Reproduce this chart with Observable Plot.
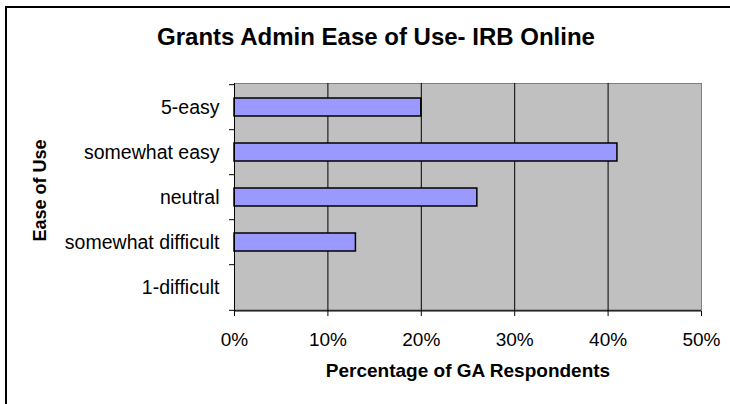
<!DOCTYPE html>
<html><head><meta charset="utf-8">
<script src="https://cdn.jsdelivr.net/npm/d3@7"></script>
<script src="https://cdn.jsdelivr.net/npm/@observablehq/plot@0.6"></script>
<style>
body{margin:0;background:#fff;}
#chart{position:relative;width:730px;height:404px;overflow:hidden;background:#fff;font-family:"Liberation Sans",Arial,sans-serif;}
#border{position:absolute;left:5px;top:6px;width:900px;height:600px;border-left:2px solid #000;border-top:2px solid #000;}
#title{position:absolute;left:0;width:752px;top:25px;text-align:center;font-weight:bold;font-size:24px;line-height:23px;color:#000;white-space:nowrap;}
#chart svg{position:absolute;left:0;top:0;}
</style></head><body>
<div id="chart"><div id="border"></div><div id="title"></div></div>
<script>
const title = "Grants Admin Ease of Use- IRB Online";
const categories = ["5-easy", "somewhat easy", "neutral", "somewhat difficult", "1-difficult"];
const values = [20, 41, 26, 13, 0];
const xTicks = [0, 10, 20, 30, 40, 50];
const xLabel = "Percentage of GA Respondents";
const yLabel = "Ease of Use";

const W = 730, H = 404, mL = 234, mR = 29, mT = 83, mB = 93;
const step = (H - mT - mB) / categories.length;
const data = categories.map((c, i) => ({category: c, value: values[i]}));

document.getElementById("title").textContent = title;

const plot = Plot.plot({
  width: W, height: H, marginLeft: mL, marginRight: mR, marginTop: mT, marginBottom: mB,
  style: {fontFamily: '"Liberation Sans", Arial, sans-serif', fontSize: "19px", color: "#000", background: "transparent", overflow: "visible"},
  x: {domain: [0, 50]},
  y: {domain: categories, paddingInner: 0.6, paddingOuter: 0.3},
  marks: [
    Plot.frame({fill: "#c0c0c0", stroke: "#808080"}),
    Plot.gridX(xTicks.slice(1, -1), {stroke: "#000", strokeOpacity: 1}),
    Plot.barX(data, {x: "value", y: "category", fill: "#9999ff", stroke: "#000", strokeWidth: 1.5}),
    Plot.ruleX([0], {stroke: "#000"}),
    Plot.ruleY([categories[categories.length - 1]], {dy: step / 2, stroke: "#000"}),
    Plot.axisX({ticks: xTicks, tickFormat: d => d + "%", tickSize: 5, tickPadding: 16, label: null, fontSize: 19}),
    Plot.axisY({tickSize: 0, tickPadding: 15, label: null, fontSize: 19.5}),
    Plot.axisY(categories, {tickSize: 5, fill: "none", stroke: "#000", dy: -step / 2, label: null}),
    Plot.axisY([categories[categories.length - 1]], {tickSize: 5, fill: "none", stroke: "#000", dy: step / 2, label: null}),
    Plot.text([xLabel], {text: d => d, frameAnchor: "bottom", dy: 65, fontWeight: "bold", fontSize: 19}),
    Plot.text([yLabel], {text: d => d, frameAnchor: "left", textAnchor: "middle", dx: -194, dy: -7, rotate: -90, fontWeight: "bold", fontSize: 18})
  ]
});
document.getElementById("chart").appendChild(plot);
</script>
</body></html>
